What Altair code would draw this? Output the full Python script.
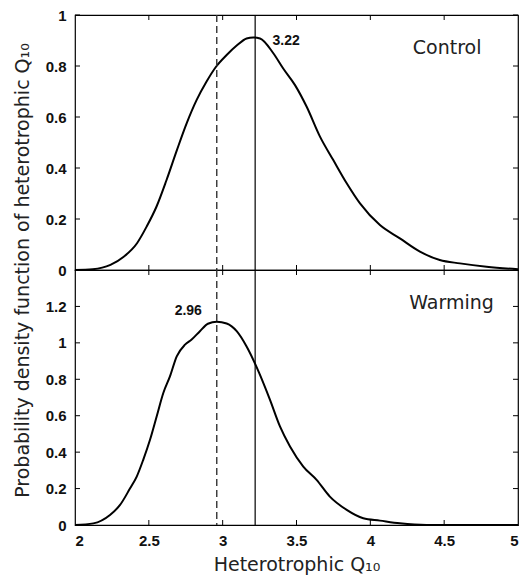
import altair as alt
import pandas as pd

# Control (top panel) density curve
control_x = [2.0, 2.12, 2.24, 2.33, 2.42, 2.485, 2.553, 2.62, 2.69, 2.756, 2.824, 2.89, 2.955,
             3.027, 3.095, 3.162, 3.207, 3.253, 3.343, 3.41, 3.49, 3.569, 3.659, 3.749, 3.84,
             3.93, 4.065, 4.2, 4.336, 4.47, 4.607, 4.787, 5.0]
control_y = [0.0, 0.003, 0.02, 0.052, 0.105, 0.17, 0.25, 0.353, 0.47, 0.575, 0.667, 0.738, 0.797,
             0.843, 0.88, 0.908, 0.912, 0.908, 0.85, 0.79, 0.725, 0.64, 0.523, 0.431, 0.34,
             0.261, 0.176, 0.124, 0.072, 0.039, 0.026, 0.013, 0.003]

# Warming (bottom panel) density curve
warming_x = [2.0, 2.124, 2.237, 2.305, 2.372, 2.418, 2.462, 2.508, 2.553, 2.598, 2.643, 2.689,
             2.745, 2.79, 2.846, 2.9, 2.96, 3.027, 3.095, 3.162, 3.247, 3.32, 3.388, 3.456,
             3.546, 3.636, 3.726, 3.84, 3.952, 4.065, 4.2, 4.38, 5.0]
warming_y = [0.0, 0.009, 0.055, 0.11, 0.2, 0.266, 0.358, 0.468, 0.596, 0.725, 0.816, 0.926,
             0.99, 1.018, 1.064, 1.105, 1.116, 1.106, 1.064, 0.98, 0.835, 0.688, 0.541, 0.431,
             0.321, 0.248, 0.156, 0.083, 0.037, 0.024, 0.009, 0.0, 0.0]

median_control = [3.22]
median_warming = [2.96]

x_ticks = [2, 2.5, 3, 3.5, 4, 4.5, 5]
top_y_ticks = [0, 0.2, 0.4, 0.6, 0.8, 1.0]
bottom_y_ticks = [0, 0.2, 0.4, 0.6, 0.8, 1.0, 1.2]

top_num_label = ["3.22"]
top_num_x = [3.43]
top_num_y = [0.90]
bottom_num_label = ["2.96"]
bottom_num_x = [2.767]
bottom_num_y = [1.174]

top_name = ["Control"]
top_name_x = [4.52]
top_name_y = [0.87]
bottom_name = ["Warming"]
bottom_name_x = [4.55]
bottom_name_y = [1.22]

W, H = 443, 255
TICK = 5
LABEL_FONT = "Liberation Sans"
TITLE_FONT = "DejaVu Sans"

x_scale = alt.Scale(domain=[2, 5], nice=False, zero=False)


def panel(cx, cy, ydom, yticks, num_lab, num_x, num_y, name, name_x, name_y, bottom):
    y_scale = alt.Scale(domain=ydom, nice=False, zero=False)
    if bottom:
        x_axis = alt.Axis(values=x_ticks, format="~g", ticks=False, domain=False, grid=False,
                          labelFont=LABEL_FONT, labelFontSize=15, labelFontWeight="bold",
                          labelColor="#111", labelPadding=8,
                          title="Heterotrophic Q\u2081\u2080", titleFont=TITLE_FONT,
                          titleFontSize=19, titleFontWeight="normal", titleColor="#222",
                          titlePadding=7)
        y_axis = alt.Axis(values=yticks, format=".1~f", ticks=False, domain=False, grid=False,
                          labelFont=LABEL_FONT, labelFontSize=15, labelFontWeight="bold",
                          labelColor="#111", labelPadding=9,
                          title="Probability density function of heterotrophic Q\u2081\u2080",
                          titleFont=TITLE_FONT, titleFontSize=19, titleFontWeight="normal",
                          titleColor="#222", titleY=0, titleX=-53, titleAngle=270,
                          titleAlign="center", titleBaseline="middle")
    else:
        x_axis = None
        y_axis = alt.Axis(values=yticks, format=".1~f", ticks=False, domain=False, grid=False,
                          labelFont=LABEL_FONT, labelFontSize=15, labelFontWeight="bold",
                          labelColor="#111", labelPadding=9, title=None)

    curve = alt.Chart(pd.DataFrame({"x": cx, "y": cy})).mark_line(
        color="black", strokeWidth=2, interpolate="monotone"
    ).encode(
        x=alt.X("x:Q", scale=x_scale, axis=x_axis),
        y=alt.Y("y:Q", scale=y_scale, axis=y_axis),
    )

    solid = alt.Chart(pd.DataFrame({"m": median_control})).mark_rule(
        color="black", strokeWidth=1.2
    ).encode(x=alt.X("m:Q", scale=x_scale))
    dashed = alt.Chart(pd.DataFrame({"m": median_warming})).mark_rule(
        color="#333", strokeWidth=1.4, strokeDash=[7, 4]
    ).encode(x=alt.X("m:Q", scale=x_scale))

    ydf = pd.DataFrame({"t": yticks})
    xdf = pd.DataFrame({"t": x_ticks[1:-1]})
    ytl = alt.Chart(ydf).mark_rule(color="black").encode(
        y=alt.Y("t:Q", scale=y_scale), x=alt.value(0), x2=alt.value(TICK))
    ytr = alt.Chart(ydf).mark_rule(color="black").encode(
        y=alt.Y("t:Q", scale=y_scale), x=alt.value(W - TICK), x2=alt.value(W))
    xtb = alt.Chart(xdf).mark_rule(color="black").encode(
        x=alt.X("t:Q", scale=x_scale), y=alt.value(H - TICK), y2=alt.value(H))
    xtt = alt.Chart(xdf).mark_rule(color="black").encode(
        x=alt.X("t:Q", scale=x_scale), y=alt.value(0), y2=alt.value(TICK))

    num = alt.Chart(pd.DataFrame({"x": num_x, "y": num_y, "t": num_lab})).mark_text(
        font=LABEL_FONT, fontSize=14, fontWeight="bold", color="#111"
    ).encode(x=alt.X("x:Q", scale=x_scale), y=alt.Y("y:Q", scale=y_scale), text="t:N")
    nm = alt.Chart(pd.DataFrame({"x": name_x, "y": name_y, "t": name})).mark_text(
        font=TITLE_FONT, fontSize=19, color="#222"
    ).encode(x=alt.X("x:Q", scale=x_scale), y=alt.Y("y:Q", scale=y_scale), text="t:N")

    return alt.layer(curve, dashed, solid, ytl, ytr, xtb, xtt, num, nm).properties(
        width=W, height=H)


top = panel(control_x, control_y, [0, 1], top_y_ticks, top_num_label, top_num_x, top_num_y,
            top_name, top_name_x, top_name_y, False)
bottom = panel(warming_x, warming_y, [0, 1.4], bottom_y_ticks, bottom_num_label, bottom_num_x,
               bottom_num_y, bottom_name, bottom_name_x, bottom_name_y, True)

chart = alt.vconcat(top, bottom, spacing=0, bounds="flush").properties(
    padding={"left": 12, "top": 7, "right": 0, "bottom": 0},
    background="white",
).configure_view(stroke="black", strokeWidth=1.2)

chart.save("out.html", embed_options={"renderer": "svg", "actions": False})
